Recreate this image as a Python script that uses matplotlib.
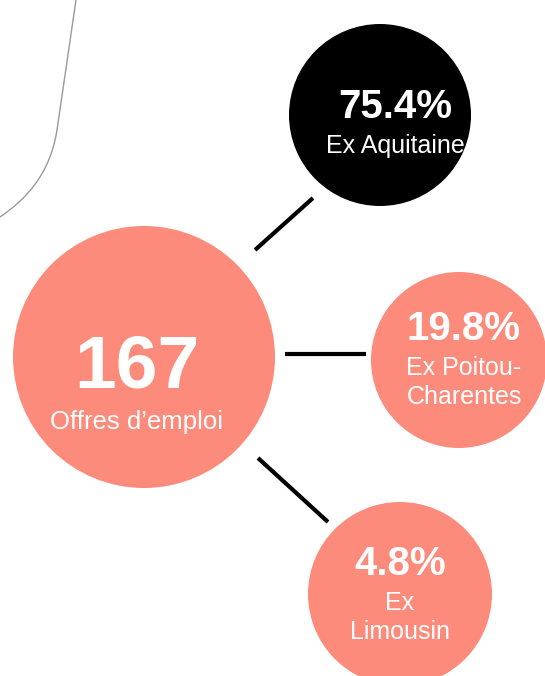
import matplotlib.pyplot as plt
from matplotlib.patches import Circle, PathPatch
from matplotlib.path import Path

# =============================================================================
# Data
# =============================================================================

total = 167
total_label = 'Offres d\u2019emploi'

shares = [75.4, 19.8, 4.8]
regions = ['Ex Aquitaine', 'Ex Poitou-\nCharentes', 'Ex\nLimousin']

# =============================================================================
# Layout (pixel coordinates, y downwards)
# =============================================================================

salmon = '#FD8B7C'
main_c = (144, 357)
main_r = 131

# circle centre, radius, fill, text x, value baseline
bubbles = [
    ((380, 115), 91, 'black', 395, 118),
    ((459, 360), 88, salmon, 464, 340),
    ((400, 594), 92, salmon, 400, 575),
]
# connector lines
links = [
    ((255, 250), (313, 198)),
    ((285, 354), (366, 354)),
    ((258, 458), (328, 522)),
]

plt.rcParams['font.family'] = ['Liberation Sans', 'DejaVu Sans']

fig = plt.figure(figsize=[5.45, 6.76], dpi=100)
ax = fig.add_axes([0, 0, 1, 1])
ax.set_xlim(0, 545)
ax.set_ylim(676, 0)
ax.set_aspect('equal')
ax.axis('off')

# Decorative grey curve top-left
verts = [(76, 0), (57, 130), (50, 175), (25, 200), (0, 217)]
codes = [Path.MOVETO, Path.LINETO, Path.CURVE4, Path.CURVE4, Path.CURVE4]
ax.add_patch(PathPatch(Path(verts, codes), fill=False, ec='#9a9a9a', lw=1.0))

# Connectors
for (x0, y0), (x1, y1) in links:
    ax.plot([x0, x1], [y0, y1], color='black', lw=3.0, solid_capstyle='butt')

# Main bubble
ax.add_patch(Circle(main_c, main_r, fc=salmon, ec='none'))
ax.text(137, 387, str(total), color='white', fontsize=54, fontweight='bold',
        ha='center', va='baseline')
ax.text(137, 429, total_label, color='white', fontsize=18.5,
        ha='center', va='baseline')

# Region bubbles
for (c, r, fc, tx, ty), val, name in zip(bubbles, shares, regions):
    ax.add_patch(Circle(c, r, fc=fc, ec='none'))
    ax.text(tx, ty, f'{val:.1f}%', color='white', fontsize=29,
            fontweight='bold', ha='center', va='baseline')
    for k, line in enumerate(name.split('\n')):
        ax.text(tx, ty + 35 + k * 29, line, color='white', fontsize=18,
                ha='center', va='baseline')

fig.savefig('out.png', dpi=100)
